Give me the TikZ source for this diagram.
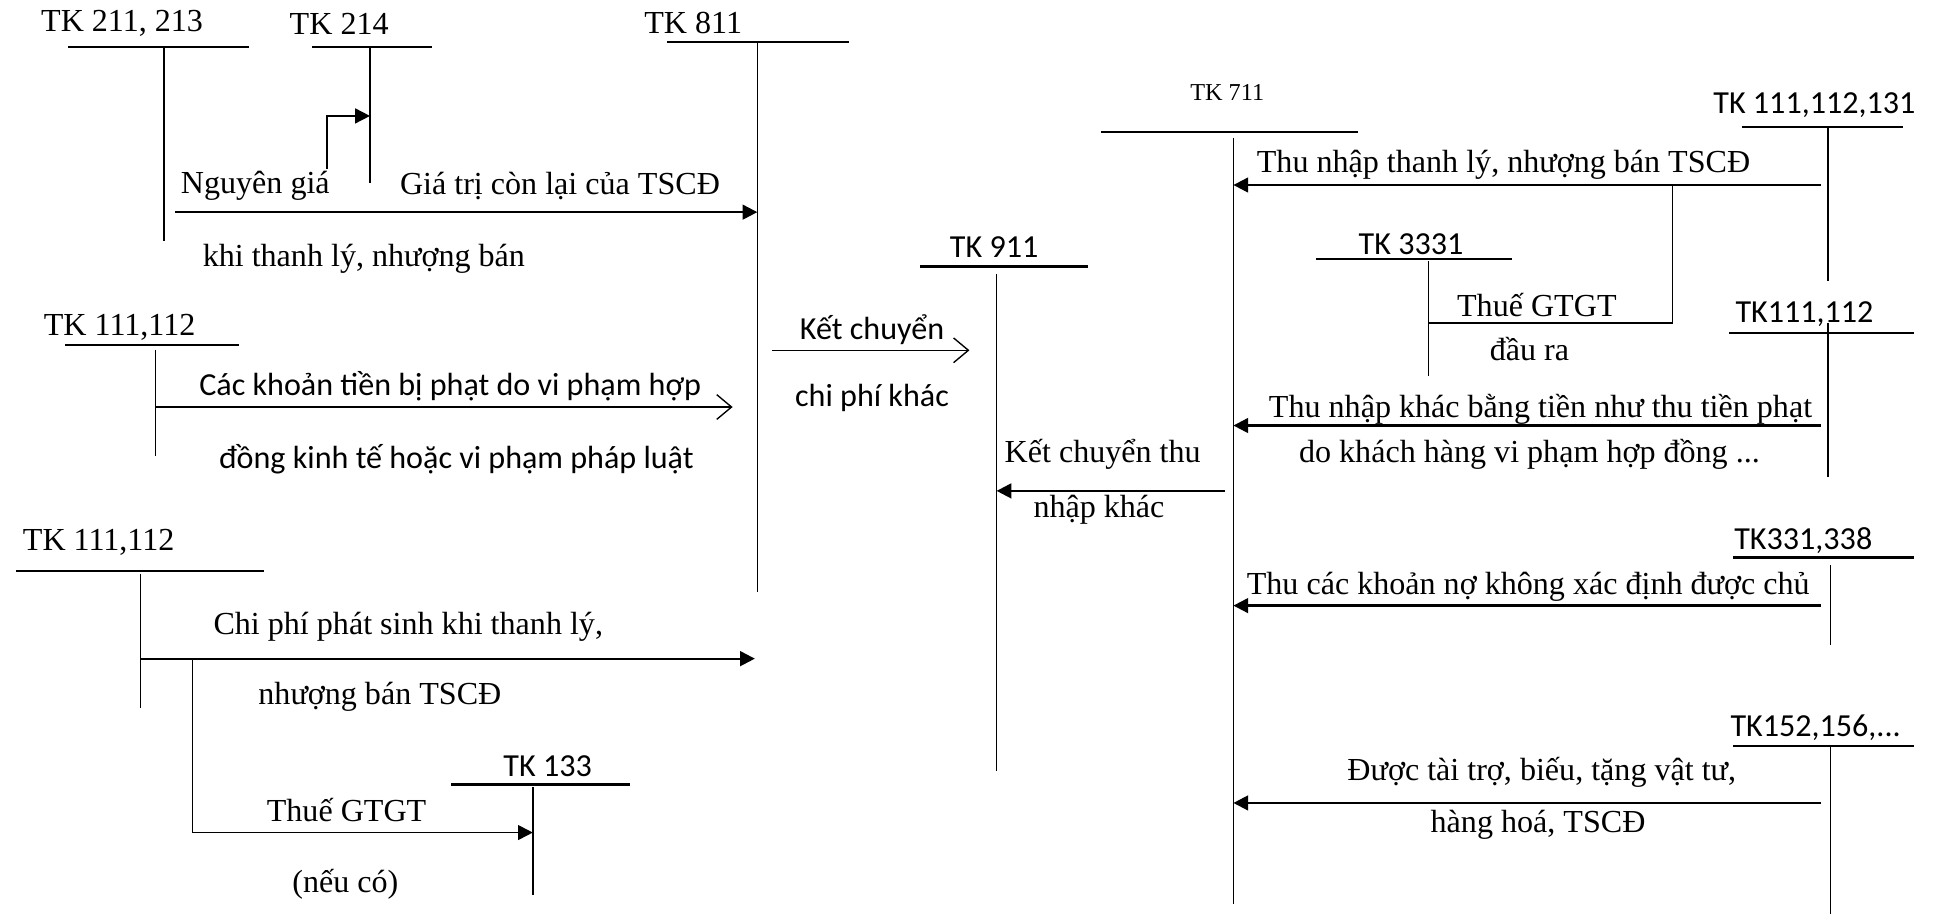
\documentclass[tikz,border=0pt]{standalone}
\usepackage{fontspec}
\setmainfont{Liberation Serif}
\newfontfamily\carlito{Carlito}
\usetikzlibrary{arrows.meta}

\begin{document}
\begin{tikzpicture}[x=0.025cm, y=-0.025cm,
  lbl/.style={font=\fontsize{18.5}{21}\selectfont, inner sep=0pt},
  lblc/.style={font=\carlito\fontsize{18.5}{21}\selectfont, inner sep=0pt},
  lbls/.style={font=\fontsize{14}{16}\selectfont, inner sep=0pt},
  head/.style={line width=1.3pt},
  stem/.style={line width=0.9pt},
  arr/.style={line width=1.3pt, -{Triangle[length=0.3cm,width=0.3cm]}},
  arro/.style={line width=0.8pt, -{Straight Barb[length=0.3cm,width=0.5cm]}}]
  \useasboundingbox (0,0) rectangle (1568,741);
  % T-accounts: name/style/label x/label y/line from/line to/line y/stem x/stem top/stem end/label
  \foreach \nm/\st/\lx/\ly/\l/\r/\h/\sx/\sa/\se/\txt in {%
      a211/lbl/99/19/55/202/38/133/38/195/{TK 211, 213},
      a214/lbl/275/19/253/350/38/300/38/148/{TK 214},
      a811/lbl/562/19/541/688/34/614/34/480/{TK 811},
      a111/lbl/97/265/53/194/280/126/284/370/{TK 111,112},
      a112/lbl/80/440/13/214/463/114/465/574/{TK 111,112},
      a133/lblc/444/621/366/511/636/432/638/726/{TK 133},
      a911/lblc/806/200/746/882/216/808/222/625/{TK 911},
      a711/lbls/995/75/893/1101/107/1000/112/733/{TK 711},
      a131/lblc/1471/85/1412/1543/103/1482/103/228/{TK 111,112,131},
      a3331/lblc/1144/198/1067/1226/210/1158/212/305/{TK 3331},
      a1112/lblc/1463/255/1402/1552/270/1482/262/387/{TK111,112},
      a338/lblc/1462/438/1405/1552/452/1484/458/523/{TK331,338},
      a152/lblc/1472/590/1405/1552/605/1484/605/741/{TK152,156,...}}
  {
    \node[\st] (\nm) at (\lx,\ly) {\txt};
    \draw[head] (\l,\h) -- (\r,\h);
    \draw[stem] (\sx,\sa) coordinate (\nm-top) -- (\sx,\se) coordinate (\nm-bot);
  }

  % left side: TK 811
  \coordinate (k214) at (265,137);
  \draw[arr, line width=1pt] (k214) |- (a214-top |- 0,94);
  \coordinate (k211) at (142,172);
  \draw[arr] (k211) -- (k211 -| a811-top);
  \coordinate (k111) at (126,330);
  \draw[arro] (k111) -- (594,330);
  \coordinate (k112) at (114,534);
  \draw[arr] (k112) -- (612,534);
  \coordinate (k133) at (156,534);
  \draw[arr, line width=1pt] (k133) |- (a133-top |- 0,675);

  \node[lbl] (t1) at (207,151) {Nguyên giá};
  \node[lbl] (t2) at (454,151) {Giá trị còn lại của TSCĐ};
  \node[lbl] (t3) at (295,210) {khi thanh lý, nhượng bán};
  \node[lblc] (t4) at (365,313) {Các khoản tiền bị phạt do vi phạm hợp};
  \node[lblc] (t5) at (370,372) {đồng kinh tế hoặc vi phạm pháp luật};
  \node[lbl] (t6) at (331,508) {Chi phí phát sinh khi thanh lý,};
  \node[lbl] (t7) at (308,565) {nhượng bán TSCĐ};
  \node[lbl] (t8) at (281,657) {Thuế GTGT};
  \node[lbl] (t9) at (280,717) {(nếu có)};

  % middle: TK 911
  \coordinate (k811) at (626,284);
  \draw[arro] (k811) -- (786,284);
  \coordinate (k711) at (993,398);
  \draw[arr] (k711) -- (k711 -| a911-top);
  \node[lblc] (t10) at (707,267) {Kết chuyển};
  \node[lblc] (t11) at (707,323) {chi phí khác};
  \node[lbl] (t12) at (894,368) {Kết chuyển thu};
  \node[lbl] (t13) at (891,413) {nhập khác};

  % right side: TK 711
  \coordinate (k131) at (1476,150);
  \draw[arr] (k131) -- (k131 -| a711-top);
  \coordinate (k3331) at (1356,150);
  \draw[stem] (k3331) |- (a3331-top |- 0,262);
  \coordinate (k1112) at (1476,345);
  \draw[arr] (k1112) -- (k1112 -| a711-top);
  \coordinate (k338) at (1476,491);
  \draw[arr] (k338) -- (k338 -| a711-top);
  \coordinate (k152) at (1476,651);
  \draw[arr] (k152) -- (k152 -| a711-top);

  \node[lbl] (t14) at (1219,134) {Thu nhập thanh lý, nhượng bán TSCĐ};
  \node[lbl] (t15) at (1246,247) {Thuế GTGT};
  \node[lbl] (t16) at (1240,283) {đầu ra};
  \node[lbl] (t17) at (1249,332) {Thu nhập khác bằng tiền như thu tiền phạt};
  \node[lbl] (t18) at (1240,368) {do khách hàng vi phạm hợp đồng ...};
  \node[lbl] (t19) at (1239,476) {Thu các khoản nợ không xác định được chủ};
  \node[lbl] (t20) at (1250,626) {Được tài trợ, biếu, tặng vật tư,};
  \node[lbl] (t21) at (1247,669) {hàng hoá, TSCĐ};
\end{tikzpicture}
\end{document}
